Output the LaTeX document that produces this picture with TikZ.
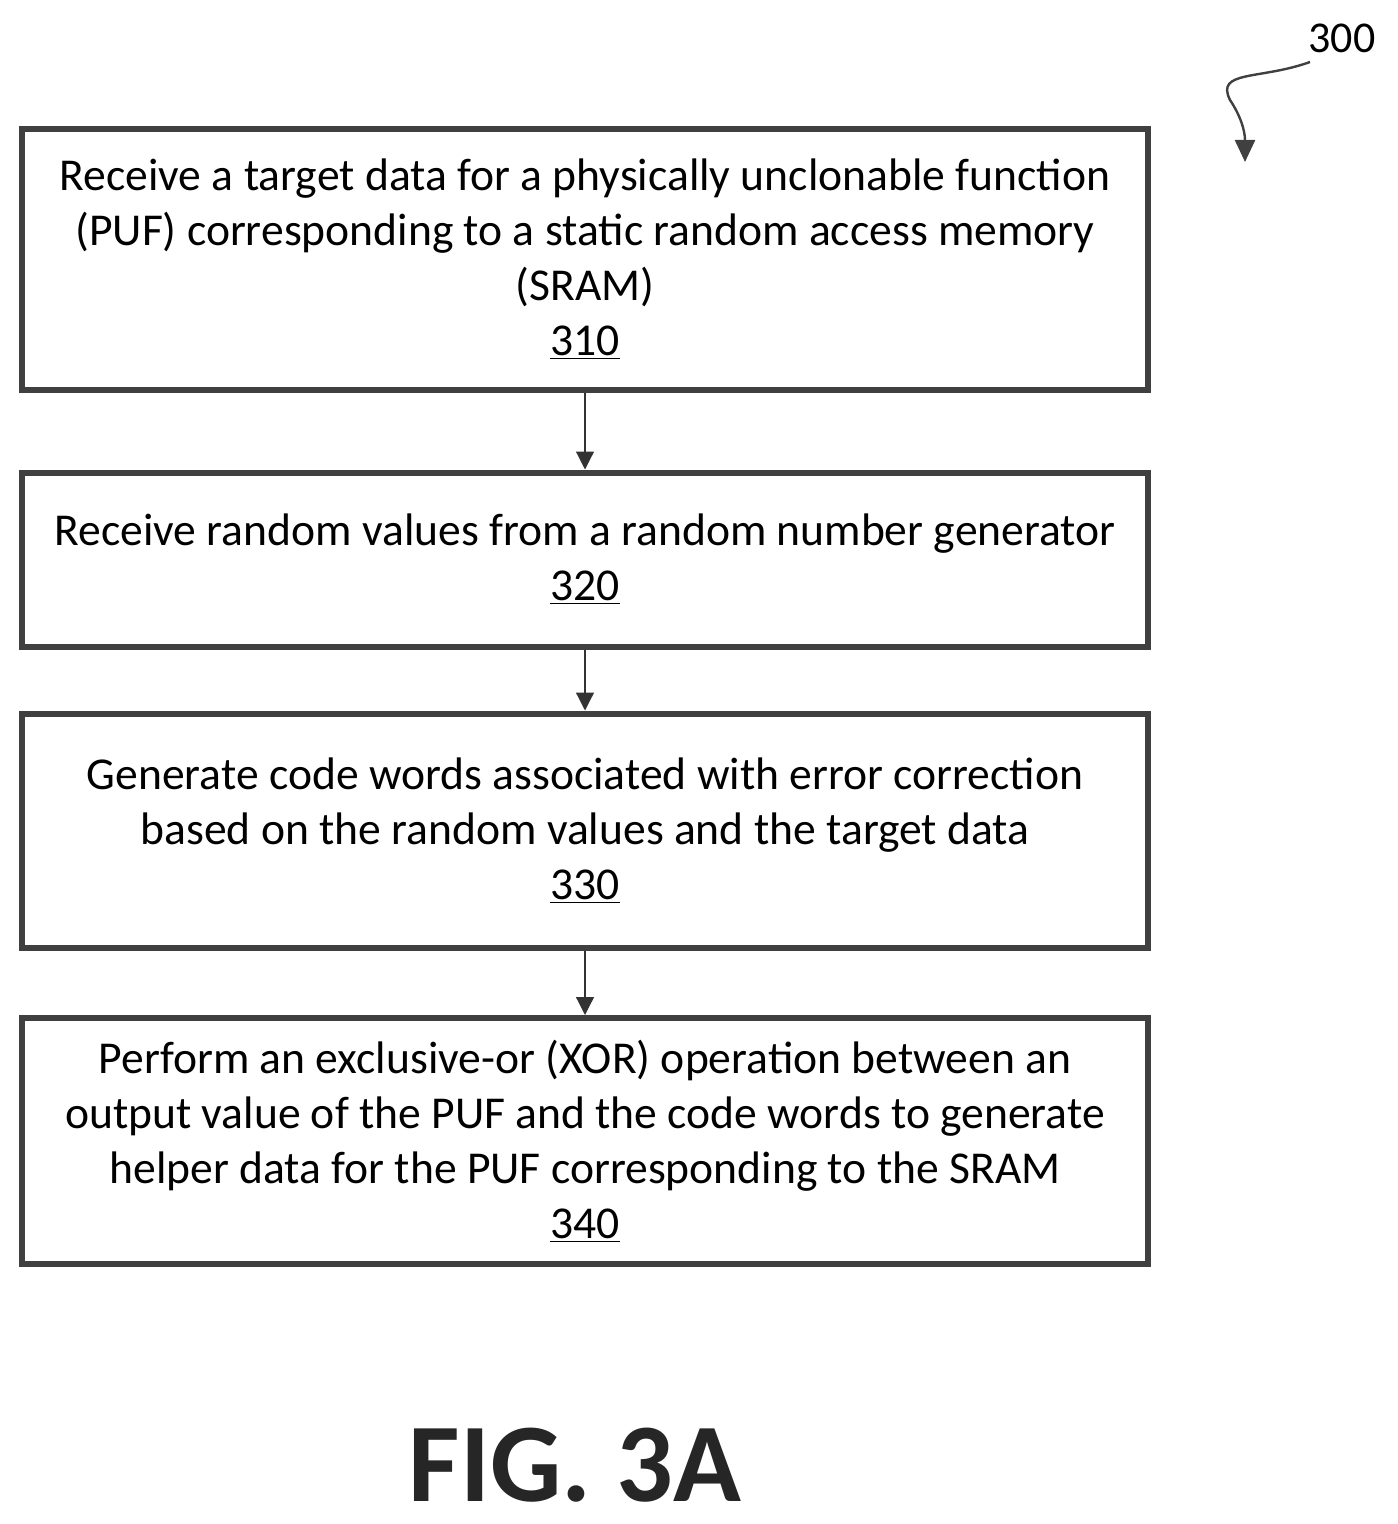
\documentclass[tikz,border=0pt]{standalone}
\usepackage{fontspec}
\setmainfont{Carlito}
\usetikzlibrary{arrows.meta}
\begin{document}
\begin{tikzpicture}[x=0.5pt,y=-0.5pt]
\tikzset{boxst/.style={draw=black!75,line width=3pt,minimum width=563pt,align=center,font=\fontsize{22.8}{27.5}\selectfont,inner sep=0pt},
conn/.style={draw=black!80,line width=0.6pt,-{Triangle[length=9pt,width=9pt]}}}
\useasboundingbox (0,0) rectangle (1397,1524);
\node[boxst,minimum height=130pt] (b1) at (585,259.5) {Receive a target data for a physically unclonable function\\(PUF) corresponding to a static random access memory\\(SRAM)\\\underline{310}};
\node[boxst,minimum height=87pt] (b2) at (585,559.5) {Receive random values from a random number generator\\\underline{320}};
\node[boxst,minimum height=117pt] (b3) at (585,830.5) {Generate code words associated with error correction\\based on the random values and the target data\\\underline{330}};
\node[boxst,minimum height=123pt] (b4) at (585,1141) {Perform an exclusive-or (XOR) operation between an\\output value of the PUF and the code words to generate\\helper data for the PUF corresponding to the SRAM\\\underline{340}};
\draw[conn] (b1) -- (b2);
\draw[conn] (b2) -- (b3);
\draw[conn] (b3) -- (b4);
\node[font=\fontsize{56}{56}\selectfont\bfseries,text=black!85,inner sep=0pt] (fig) at (575,1465) {FIG. 3A};
\node[font=\fontsize{22}{22}\selectfont] (lbl) at (1342,38) {300};
\coordinate (s) at (1310,62);
\coordinate (e) at (1245,162);
\draw[draw=black!75,line width=1.2pt,-{Triangle[length=11pt,width=10pt]}] (s) .. controls (1260,80) and (1215,70) .. (1230,100) .. controls (1240,115) and (1245,130) .. (e);
\end{tikzpicture}
\end{document}
